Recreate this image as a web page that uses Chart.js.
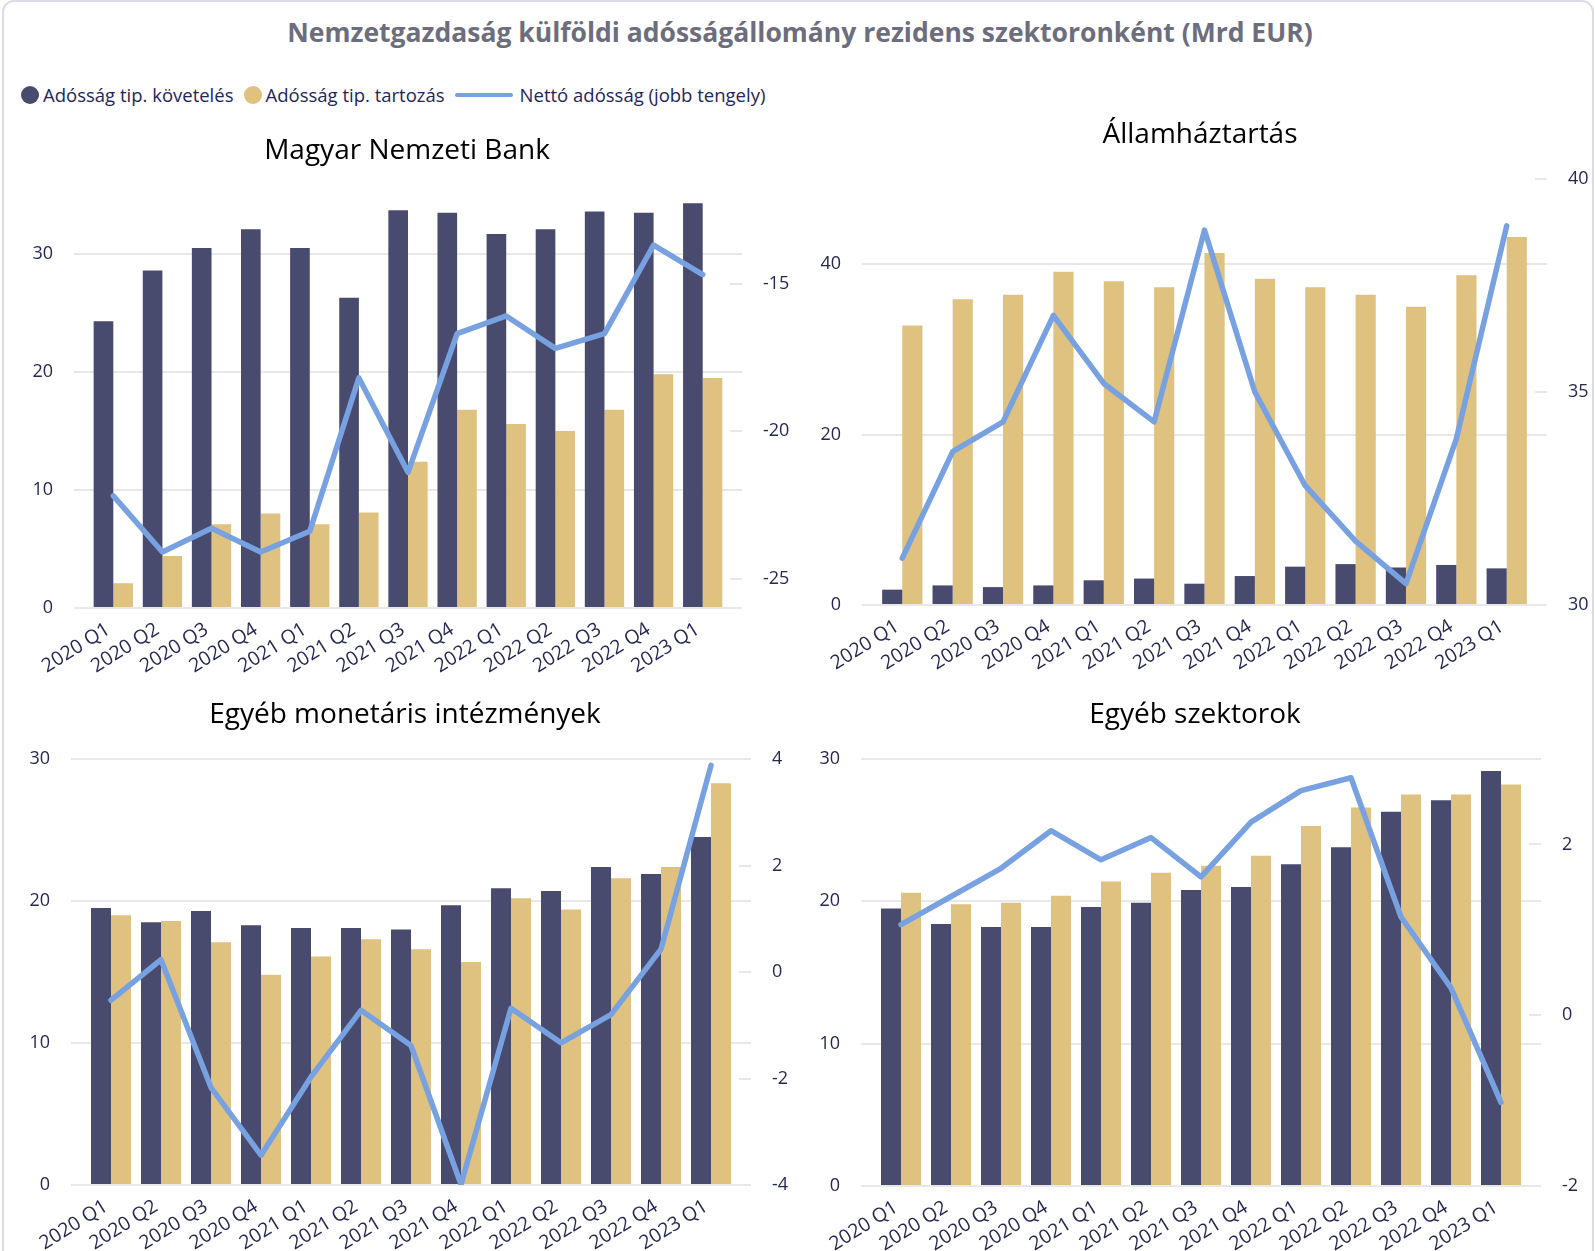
<!DOCTYPE html>
<html lang="hu">
<head>
<meta charset="utf-8">
<title>Nemzetgazdaság külföldi adósságállomány rezidens szektoronként</title>
<script src="https://cdn.jsdelivr.net/npm/chart.js@4.4.1/dist/chart.umd.min.js"></script>
<style>
  html, body { margin: 0; padding: 0; background: #fff; }
  body { width: 1595px; height: 1251px; position: relative; overflow: hidden; font-family: 'Open Sans', sans-serif; }
  .frame { position: absolute; left: 2px; top: 0; width: 1592px; height: 1280px; border: 2px solid #dcdce4; border-radius: 12px; box-sizing: border-box; }
  #title { position: absolute; left: 0; top: 14px; width: 1600px; text-align: center; font-weight: bold; font-size: 26.5px; color: #6c6d7d; white-space: nowrap; }
  #legend { position: absolute; left: 21px; top: 82px; display: flex; align-items: center; font-size: 18.5px; color: #232659; white-space: nowrap; }
  #legend .item { display: flex; align-items: center; margin-right: 10px; }
  #legend .dot { width: 18px; height: 18px; border-radius: 50%; margin-right: 4px; }
  #legend .bar { width: 58px; height: 4px; margin-right: 7px; border-radius: 2px; }
  canvas { position: absolute; }
</style>
</head>
<body>
<div class="frame"></div>
<div id="title">Nemzetgazdaság külföldi adósságállomány rezidens szektoronként (Mrd EUR)</div>
<div id="legend"></div>
<canvas id="c1"></canvas>
<canvas id="c2"></canvas>
<canvas id="c3"></canvas>
<canvas id="c4"></canvas>
<script>
// Categories and series (Mrd EUR)
const categories = ['2020 Q1', '2020 Q2', '2020 Q3', '2020 Q4', '2021 Q1', '2021 Q2', '2021 Q3',
  '2021 Q4', '2022 Q1', '2022 Q2', '2022 Q3', '2022 Q4', '2023 Q1'];
const seriesNames = ['Adósság tip. követelés', 'Adósság tip. tartozás', 'Nettó adósság (jobb tengely)'];

// Magyar Nemzeti Bank
const mnbClaims = [24.3, 28.6, 30.5, 32.1, 30.5, 26.3, 33.7, 33.5, 31.7, 32.1, 33.6, 33.5, 34.3];
const mnbLiabilities = [2.1, 4.4, 7.1, 8.0, 7.1, 8.1, 12.4, 16.8, 15.6, 15.0, 16.8, 19.8, 19.5];
const mnbNet = [-22.2, -24.1, -23.3, -24.1, -23.4, -18.2, -21.4, -16.7, -16.1, -17.2, -16.7, -13.7, -14.7];
const mnbLeftTicks = [0, 10, 20, 30];
const mnbRightTicks = [-25, -20, -15];

// Államháztartás
const govClaims = [1.8, 2.3, 2.1, 2.3, 2.9, 3.1, 2.5, 3.4, 4.5, 4.8, 4.4, 4.7, 4.3];
const govLiabilities = [32.8, 35.9, 36.4, 39.1, 38.0, 37.3, 41.3, 38.3, 37.3, 36.4, 35.0, 38.7, 43.2];
const govNet = [31.1, 33.6, 34.3, 36.8, 35.2, 34.3, 38.8, 35.0, 32.8, 31.5, 30.5, 33.9, 38.9];
const govLeftTicks = [0, 20, 40];
const govRightTicks = [30, 35, 40];

// Egyéb monetáris intézmények
const mfiClaims = [19.5, 18.5, 19.3, 18.3, 18.1, 18.1, 18.0, 19.7, 20.9, 20.7, 22.4, 21.9, 24.5];
const mfiLiabilities = [19.0, 18.6, 17.1, 14.8, 16.1, 17.3, 16.6, 15.7, 20.2, 19.4, 21.6, 22.4, 28.3];
const mfiNet = [-0.53, 0.23, -2.17, -3.44, -1.97, -0.72, -1.38, -3.99, -0.68, -1.33, -0.8, 0.43, 3.88];
const mfiLeftTicks = [0, 10, 20, 30];
const mfiRightTicks = [-4, -2, 0, 2, 4];

// Egyéb szektorok
const otherClaims = [19.5, 18.4, 18.2, 18.2, 19.6, 19.9, 20.8, 21.0, 22.6, 23.8, 26.3, 27.1, 29.15];
const otherLiabilities = [20.6, 19.8, 19.9, 20.4, 21.4, 22.0, 22.5, 23.2, 25.3, 26.6, 27.5, 27.5, 28.2];
const otherNet = [1.06, 1.39, 1.72, 2.16, 1.82, 2.08, 1.62, 2.26, 2.63, 2.78, 1.15, 0.32, -1.02];
const otherLeftTicks = [0, 10, 20, 30];
const otherRightTicks = [-2, 0, 2];

const colors = { claims: '#484a6e', liabilities: '#dfc180', net: '#77a1e0', grid: '#e8e8e8', tick: '#262852' };

// Legend (shared by all four panels)
const legendEl = document.getElementById('legend');
[colors.claims, colors.liabilities, colors.net].forEach((c, i) => {
  const item = document.createElement('span');
  item.className = 'item';
  const mark = document.createElement('span');
  mark.className = i < 2 ? 'dot' : 'bar';
  mark.style.background = c;
  const txt = document.createElement('span');
  txt.textContent = seriesNames[i];
  item.append(mark, txt);
  legendEl.appendChild(item);
});

Chart.defaults.font.family = "'Open Sans', sans-serif";
Chart.defaults.color = colors.tick;

// Panel layout: canvas box on the page, plot area inside the canvas
const panels = [
  { id: 'c1', title: 'Magyar Nemzeti Bank', claims: mnbClaims, liab: mnbLiabilities, net: mnbNet,
    yRange: [0, 35], yTicks: mnbLeftTicks, y1Range: [-26, -12], y1Ticks: mnbRightTicks,
    box: { x: 0, y: 110, w: 814, h: 570 }, area: { left: 74, right: 742, top: 85, bottom: 498 }, titleY: 41 },
  { id: 'c2', title: 'Államháztartás', claims: govClaims, liab: govLiabilities, net: govNet,
    yRange: [0, 50], yTicks: govLeftTicks, y1Range: [30, 40], y1Ticks: govRightTicks,
    box: { x: 790, y: 100, w: 820, h: 580 }, area: { left: 72, right: 757, top: 79, bottom: 505 }, titleY: 35 },
  { id: 'c3', title: 'Egyéb monetáris intézmények', claims: mfiClaims, liab: mfiLiabilities, net: mfiNet,
    yRange: [0, 30], yTicks: mfiLeftTicks, y1Range: [-4, 4], y1Ticks: mfiRightTicks,
    box: { x: 0, y: 670, w: 810, h: 581 }, area: { left: 71, right: 751, top: 89, bottom: 515 }, titleY: 45 },
  { id: 'c4', title: 'Egyéb szektorok', claims: otherClaims, liab: otherLiabilities, net: otherNet,
    yRange: [0, 30], yTicks: otherLeftTicks, y1Range: [-2, 3], y1Ticks: otherRightTicks,
    box: { x: 790, y: 670, w: 810, h: 581 }, area: { left: 71, right: 751, top: 89, bottom: 516 }, titleY: 45 }
];

const toPoints = arr => arr.map((v, i) => ({ x: i, y: v }));
const fixTicks = list => scale => { scale.ticks = list.map(v => ({ value: v })); };

panels.forEach(p => {
  const cv = document.getElementById(p.id);
  cv.width = p.box.w;
  cv.height = p.box.h;
  cv.style.left = p.box.x + 'px';
  cv.style.top = p.box.y + 'px';

  const titleSize = 28;
  const titleLine = titleSize * 1.2;
  const padTop = p.titleY - titleLine / 2;

  new Chart(cv, {
    type: 'bar',
    data: {
      datasets: [
        { type: 'line', label: seriesNames[2], data: toPoints(p.net), yAxisID: 'y1', order: 0,
          borderColor: colors.net, backgroundColor: colors.net, borderWidth: 5.5, pointRadius: 0,
          tension: 0, borderCapStyle: 'round', borderJoinStyle: 'round' },
        { label: seriesNames[0], data: toPoints(p.claims), yAxisID: 'y', order: 1,
          backgroundColor: colors.claims, categoryPercentage: 0.8, barPercentage: 1 },
        { label: seriesNames[1], data: toPoints(p.liab), yAxisID: 'y', order: 1,
          backgroundColor: colors.liabilities, categoryPercentage: 0.8, barPercentage: 1 }
      ]
    },
    options: {
      responsive: false,
      animation: false,
      layout: { padding: 0 },
      plugins: {
        legend: { display: false },
        tooltip: { enabled: false },
        title: {
          display: true, text: p.title, color: '#000',
          font: { size: titleSize, weight: 'normal', lineHeight: 1.2 },
          padding: { top: padTop, bottom: p.area.top - padTop - titleLine }
        }
      },
      scales: {
        x: {
          type: 'linear', min: -0.8, max: 12.8, offset: false,
          grid: { display: false }, border: { display: false },
          afterBuildTicks: fixTicks(categories.map((_, i) => i)),
          afterFit: s => { s.height = p.box.h - p.area.bottom; },
          ticks: { autoSkip: false, minRotation: 32, maxRotation: 32, padding: 2, labelOffset: -5,
            font: { size: 19.5 }, callback: v => categories[v] }
        },
        y: {
          position: 'left', min: p.yRange[0], max: p.yRange[1],
          afterBuildTicks: fixTicks(p.yTicks),
          afterFit: s => { s.width = p.area.left; },
          grid: { color: colors.grid, lineWidth: 2, drawTicks: false },
          border: { display: false },
          ticks: { padding: 21, font: { size: 18 } }
        },
        y1: {
          position: 'right', min: p.y1Range[0], max: p.y1Range[1],
          afterBuildTicks: fixTicks(p.y1Ticks),
          afterFit: s => { s.width = p.box.w - p.area.right; },
          grid: { color: colors.grid, lineWidth: 2, drawOnChartArea: false, drawTicks: true, tickLength: -12 },
          border: { display: false },
          ticks: { padding: 33, font: { size: 18 } }
        }
      }
    }
  });
});
</script>
</body>
</html>
